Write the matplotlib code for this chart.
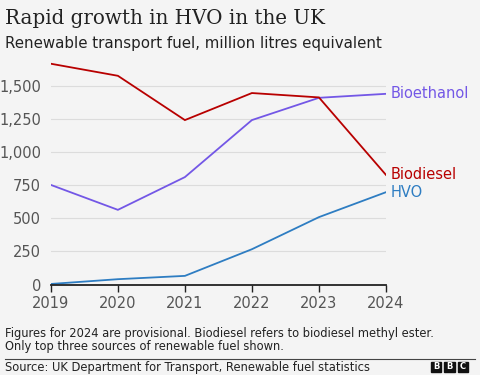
import matplotlib.pyplot as plt
from matplotlib.patches import Rectangle
from matplotlib.lines import Line2D

years = [2019, 2020, 2021, 2022, 2023, 2024]
biodiesel = [1666, 1575, 1241, 1445, 1412, 828]
bioethanol = [752, 564, 811, 1241, 1409, 1439]
hvo = [5, 41, 66, 267, 509, 697]

y_ticks = [0, 250, 500, 750, 1000, 1250, 1500]
y_tick_labels = ["0", "250", "500", "750", "1,000", "1,250", "1,500"]

series = [
    ("Bioethanol", bioethanol, "#7357e6"),
    ("Biodiesel", biodiesel, "#b80000"),
    ("HVO", hvo, "#2e7dc2"),
]

bg = "#f4f4f4"
fig = plt.figure(figsize=(4.8, 3.75), dpi=100, facecolor=bg)
ax = fig.add_axes([0.106, 0.241, 0.698, 0.594], facecolor=bg)

# Lines
for name, vals, color in series:
    ax.plot(years, vals, color=color, lw=1.3, solid_joinstyle="miter", zorder=3)
    ax.text(years[-1] + 0.07, vals[-1], name, color=color, fontsize=10.5,
            va="center", ha="left", clip_on=False)

ax.set_xlim(2019, 2024)
ax.set_ylim(0, 1680)
ax.set_xticks(years)
ax.set_xticklabels([str(y) for y in years])
ax.set_yticks(y_ticks)
ax.set_yticklabels(y_tick_labels)

ax.grid(axis="y", color="#dcdcdc", lw=0.8)
ax.set_axisbelow(True)
for s in ["top", "right", "left"]:
    ax.spines[s].set_visible(False)
ax.spines["bottom"].set_color("#222222")
ax.spines["bottom"].set_linewidth(1.3)
ax.spines["bottom"].set_zorder(4)
ax.tick_params(axis="y", length=0, labelsize=10.5, labelcolor="#555555", pad=7)
ax.tick_params(axis="x", length=5, width=1, color="#222222", labelsize=10.5,
               labelcolor="#555555", pad=3)

# Titles
fig.text(0.011, 0.950, "Rapid growth in HVO in the UK", family="DejaVu Serif",
         fontsize=14.3, color="#222222", va="center", ha="left")
fig.text(0.011, 0.885, "Renewable transport fuel, million litres equivalent",
         fontsize=10.8, color="#222222", va="center", ha="left")

# Footnote
fig.text(0.011, 0.111, "Figures for 2024 are provisional. Biodiesel refers to biodiesel methyl ester.",
         fontsize=8.3, color="#222222", va="center", ha="left")
fig.text(0.011, 0.077, "Only top three sources of renewable fuel shown.",
         fontsize=8.3, color="#222222", va="center", ha="left")
fig.add_artist(Line2D([0.011, 0.989], [0.042, 0.042], color="#444444", lw=0.8))
fig.text(0.011, 0.020, "Source: UK Department for Transport, Renewable fuel statistics",
         fontsize=8.3, color="#222222", va="center", ha="left")

# BBC blocks
for i, letter in enumerate("BBC"):
    x0 = 0.898 + i * 0.0277
    fig.add_artist(Rectangle((x0, 0.008), 0.0215, 0.027, color="#111111",
                             transform=fig.transFigure))
    fig.text(x0 + 0.0108, 0.0215, letter, color="white", fontsize=6,
             weight="bold", ha="center", va="center")

fig.savefig("out.png", dpi=100, facecolor=bg)
